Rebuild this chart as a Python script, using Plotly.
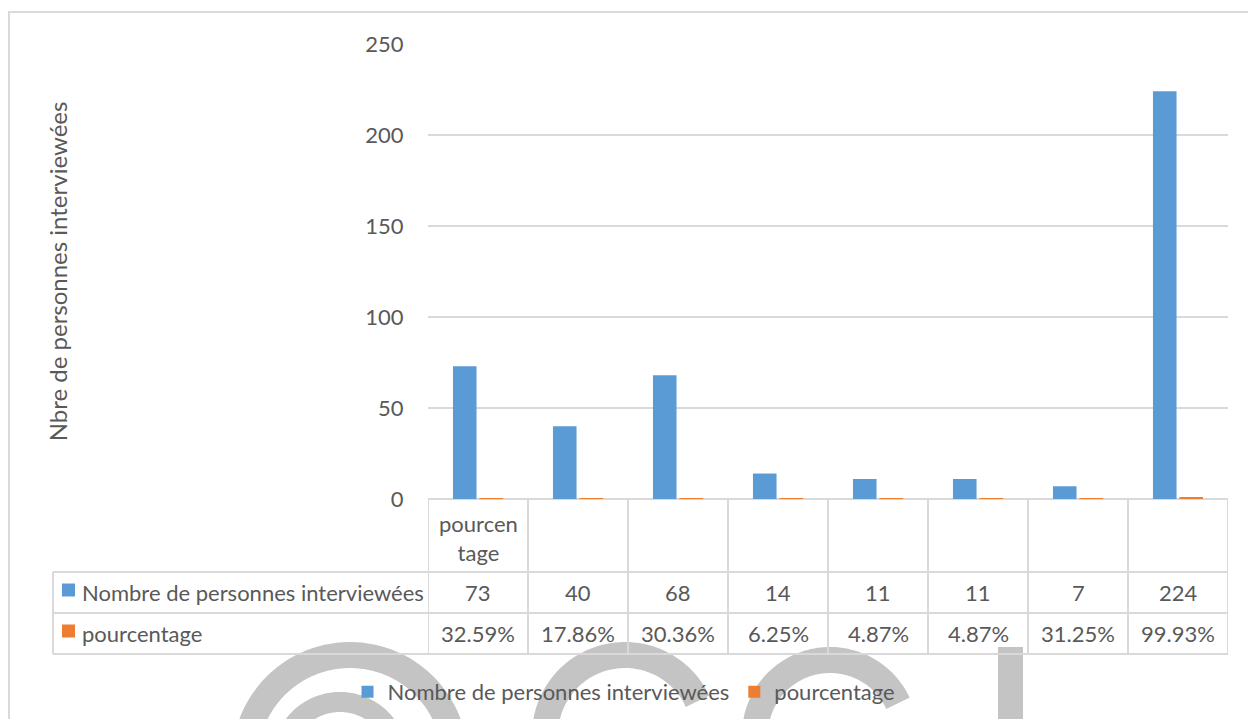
import numpy as np
import plotly.graph_objects as go

# ---------------- data ----------------
categories = ["pourcentage", "", "", "", "", "", "", ""]
series_names = ["Nombre de personnes interviewées", "pourcentage"]
nombre = [73, 40, 68, 14, 11, 11, 7, 224]
pourcentage = [0.3259, 0.1786, 0.3036, 0.0625, 0.0487, 0.0487, 0.3125, 0.9993]
y_ticks = [0, 50, 100, 150, 200, 250]
y_title = "Nbre de personnes interviewées"

# ---------------- styling ----------------
W, H = 1248, 719
FONT = "Lato"
FS = 22
TXT = "#595959"
GRID = "#D9D9D9"
BLUE = "#5B9BD5"
ORANGE = "#ED7D31"
WM = "#C4C4C4"


def px(x):
    return x / W


def py(y):
    return 1 - y / H


xs = list(range(len(nombre)))
PL, PR, PT, PB = 428, 1228, 44, 499          # plot area in pixels
ROWS = [499, 572, 613, 654]                  # data table row borders
TL = 53                                      # data table left edge

fig = go.Figure()
fig.add_bar(x=xs, y=nombre, name=series_names[0], marker_color=BLUE,
            marker_line_width=0)
fig.add_bar(x=xs, y=pourcentage, name=series_names[1], marker_color=ORANGE,
            marker_line_width=0)

shapes = []

# ---- watermark (decorative) ----
def arc_path(cx, cy, r, a0, a1, n=80):
    t = np.radians(np.linspace(a0, a1, n))
    pts = [(px(cx + r * np.cos(a)), py(cy - r * np.sin(a))) for a in t]
    return "M" + " L".join(f"{x:.5f},{y:.5f}" for x, y in pts)

for (cx, cy, r, a0, a1, w) in [
    (350, 760, 105, 0, 180, 26),
    (340, 760, 58, 0, 180, 20),
    (625, 735, 80, 25, 200, 26),
    (830, 735, 75, 25, 200, 26),
]:
    shapes.append(dict(type="path", xref="paper", yref="paper",
                       path=arc_path(cx, cy, r, a0, a1),
                       line=dict(color=WM, width=w), layer="below"))
shapes.append(dict(type="rect", xref="paper", yref="paper",
                   x0=px(998), x1=px(1023), y0=py(760), y1=py(647),
                   fillcolor=WM, line_width=0, layer="below"))

# ---- outer chart border ----
shapes.append(dict(type="rect", xref="paper", yref="paper",
                   x0=px(9), x1=px(1262), y0=py(740), y1=py(12),
                   line=dict(color=GRID, width=2), fillcolor="rgba(0,0,0,0)",
                   layer="below"))

# ---- data table grid ----
line_style = dict(color=GRID, width=2)
shapes.append(dict(type="line", xref="x", yref="paper", x0=-0.5, x1=len(xs) - 0.5,
                   y0=py(ROWS[0]), y1=py(ROWS[0]), line=line_style, layer="below"))
for r in ROWS[1:]:
    shapes.append(dict(type="line", xref="paper", yref="paper", x0=px(TL), x1=px(PR),
                       y0=py(r), y1=py(r), line=line_style, layer="below"))
for i in range(len(xs) + 1):
    shapes.append(dict(type="line", xref="x", yref="paper", x0=i - 0.5, x1=i - 0.5,
                       y0=py(ROWS[0]), y1=py(ROWS[-1]), line=line_style, layer="below"))
shapes.append(dict(type="line", xref="paper", yref="paper", x0=px(TL), x1=px(TL),
                   y0=py(ROWS[1]), y1=py(ROWS[-1]), line=line_style, layer="below"))

# legend keys in the table
for k, col in enumerate([BLUE, ORANGE]):
    yc = (ROWS[k + 1] + ROWS[k + 2]) / 2 - 2.5
    shapes.append(dict(type="rect", xref="paper", yref="paper",
                       x0=px(62), x1=px(75), y0=py(yc + 6.5), y1=py(yc - 6.5),
                       fillcolor=col, line_width=0, layer="below"))

annotations = []
for i, c in enumerate(categories):
    if c:
        label = c[:7] + "<br>" + c[7:] if len(c) > 8 else c
        annotations.append(dict(x=i, xref="x", y=py(538), yref="paper", text=label,
                                showarrow=False, font=dict(family=FONT, size=FS, color=TXT),
                                xanchor="center", yanchor="middle"))
row_vals = [[str(v) for v in nombre], [f"{v * 100:.2f}%" for v in pourcentage]]
for k in range(2):
    yc = (ROWS[k + 1] + ROWS[k + 2]) / 2
    annotations.append(dict(x=px(80), xref="paper", y=py(yc), yref="paper",
                            text=series_names[k], showarrow=False, xanchor="left",
                            yanchor="middle", font=dict(family=FONT, size=FS, color=TXT)))
    for i, t in enumerate(row_vals[k]):
        annotations.append(dict(x=i, xref="x", y=py(yc), yref="paper", text=t,
                                showarrow=False, xanchor="center", yanchor="middle",
                                font=dict(family=FONT, size=FS, color=TXT)))

fig.update_layout(
    width=W, height=H,
    margin=dict(l=0, r=0, t=0, b=0),
    paper_bgcolor="white", plot_bgcolor="rgba(0,0,0,0)",
    barmode="group", bargap=0.47, bargroupgap=0.11,
    font=dict(family=FONT, size=FS, color=TXT),
    showlegend=True,
    legend=dict(orientation="h", x=0.5, xanchor="center", y=py(692), yanchor="middle",
                font=dict(family=FONT, size=FS, color=TXT), bgcolor="rgba(0,0,0,0)",
                itemclick=False),
    xaxis=dict(domain=[px(PL), px(PR)], range=[-0.5, len(xs) - 0.5],
               showticklabels=False, showgrid=False, zeroline=False, showline=False,
               fixedrange=True),
    yaxis=dict(domain=[py(PB), py(PT)], range=[0, 250], tickvals=y_ticks,
               showgrid=True, gridcolor=GRID, gridwidth=2, zeroline=False,
               showline=False, ticks="outside", ticklen=19,
               tickcolor="rgba(0,0,0,0)",
               tickfont=dict(family=FONT, size=FS, color=TXT),
               title=dict(text=y_title, standoff=290,
                          font=dict(family=FONT, size=24, color=TXT)),
               automargin=False, fixedrange=True),
    shapes=shapes,
    annotations=annotations,
)

fig.write_html("out.html")
